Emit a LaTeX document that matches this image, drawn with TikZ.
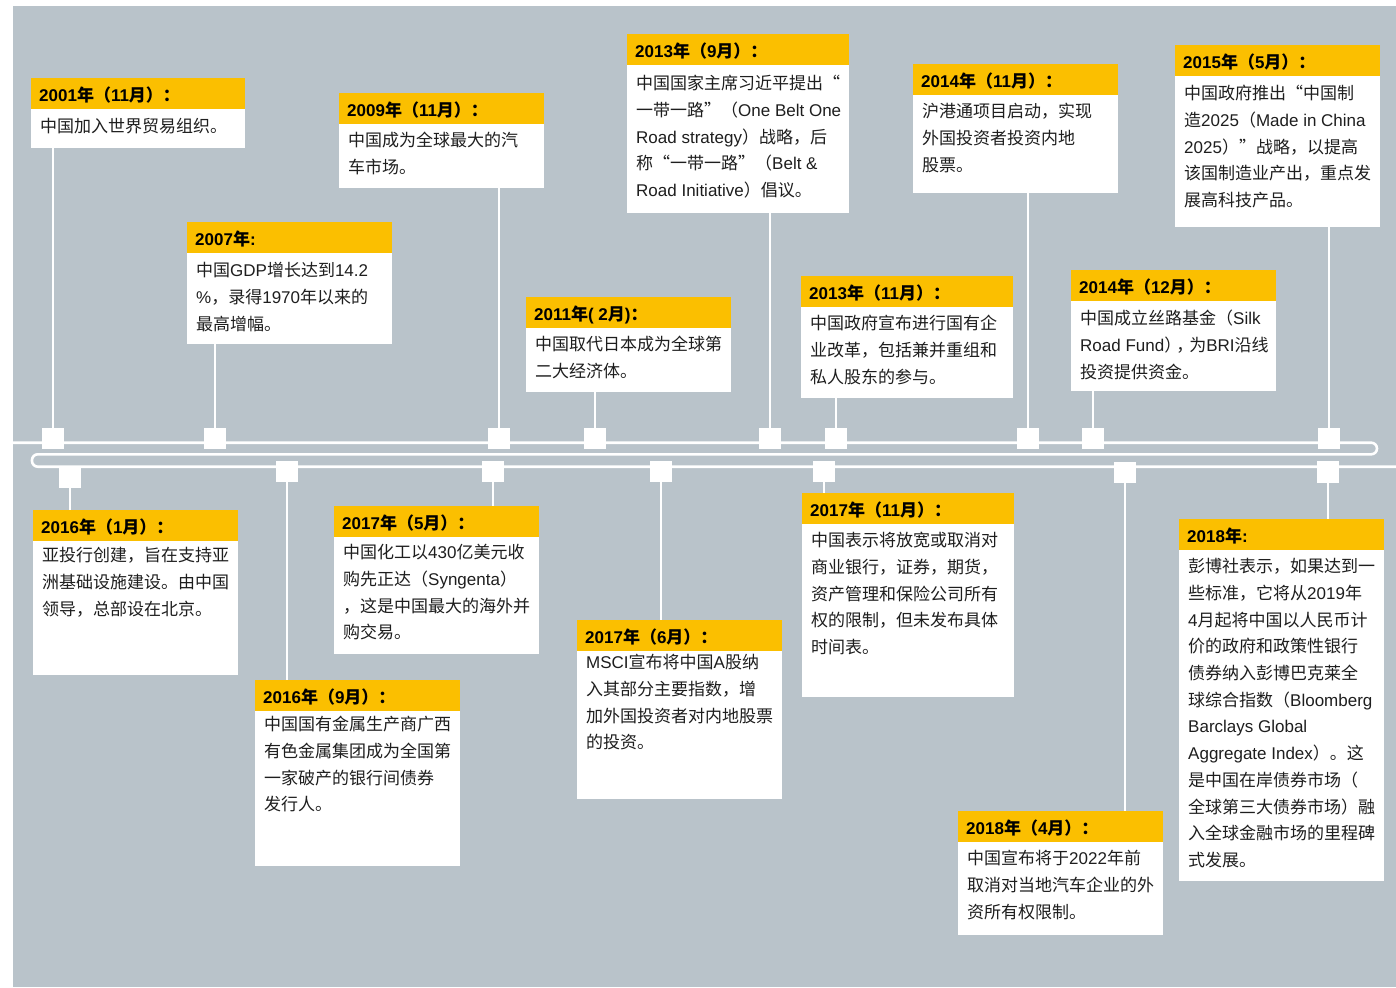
\documentclass[tikz,border=0pt]{standalone}
\usepackage{fontspec}
\setmainfont{Liberation Sans}
\newfontfamily\latf{Liberation Sans}
\newfontfamily\cjkf{Noto Sans CJK SC}
\newXeTeXintercharclass\CJKcls
\newcount\tlc
\tlc="4E00
\loop\XeTeXcharclass\tlc=\CJKcls\relax\ifnum\tlc<"9FFF \advance\tlc by 1 \repeat
\tlc="3000
\loop\XeTeXcharclass\tlc=\CJKcls\relax\ifnum\tlc<"303F \advance\tlc by 1 \repeat
\tlc="FF00
\loop\XeTeXcharclass\tlc=\CJKcls\relax\ifnum\tlc<"FFEF \advance\tlc by 1 \repeat
\XeTeXcharclass"2018=\CJKcls
\XeTeXcharclass"2019=\CJKcls
\XeTeXcharclass"201C=\CJKcls
\XeTeXcharclass"201D=\CJKcls
\XeTeXinterchartoks 0 \CJKcls = {\cjkf}
\XeTeXinterchartoks 4095 \CJKcls = {\cjkf}
\XeTeXinterchartoks \CJKcls 0 = {\latf}
\XeTeXinterchartoks 4095 0 = {\latf}
\def\mixon{\XeTeXinterchartokenstate=1\relax}
\definecolor{tlbg}{RGB}{185,195,202}
\definecolor{tlyellow}{RGB}{251,191,0}
\definecolor{tltext}{RGB}{30,30,30}
\pgfdeclarelayer{back}
\pgfdeclarelayer{conn}
\pgfsetlayers{back,conn,main}
\tikzset{
  whitebox/.style={fill=white, draw=none, inner sep=0pt, anchor=north west},
  headbar/.style={fill=tlyellow, draw=none, inner sep=0pt, minimum height=31, anchor=north west},
  headtext/.style={anchor=base west, inner sep=0pt, font=\mixon\fontsize{17}{20}\selectfont\bfseries, text=black},
  bodytext/.style={anchor=north west, inner sep=0pt, align=left, font=\mixon\fontsize{17}{26.7}\selectfont, text=tltext},
  sq/.style={fill=white, draw=none, minimum size=21.5, inner sep=0pt},
  conn/.style={draw=white, line width=2pt},
  track/.style={draw=white, line width=2.6pt, rounded corners=5.8pt}
}
\newcommand\tlbox[8]{%
  \node[whitebox, minimum width=#4, minimum height=#5] (#1) at (#2,#3) {};
  \node[headbar, minimum width=#4] (#1h) at (#2,#3) {};
  \node[headtext] (#1l) at (#2+8,#3+23.5) {#6};
  \node[bodytext] (#1t) at (#2+9,#3+22+#7) {\rule{0pt}{15.5pt}#8};
}
\begin{document}
\begin{tikzpicture}[x=1pt,y=-1pt]
\useasboundingbox (0,0) rectangle (1396,987);
\begin{pgfonlayer}{back}
\fill[tlbg] (13,6) rectangle (1396,987);
\end{pgfonlayer}
\begin{pgfonlayer}{conn}
\draw[track] (13,442.7) -- (1377,442.7) -- (1377,454.3) -- (32,454.3) -- (32,466.7) -- (1396,466.7);
\end{pgfonlayer}

% upper squares
\node[sq] (sa) at (53,438.5) {};
\node[sq] (sb) at (215,438.5) {};
\node[sq] (sc) at (499,438.5) {};
\node[sq] (sd) at (595,438.5) {};
\node[sq] (se) at (770,438.5) {};
\node[sq] (sf) at (836,438.5) {};
\node[sq] (sg) at (1028,438.5) {};
\node[sq] (sh) at (1093,438.5) {};
\node[sq] (si) at (1329,438.5) {};
% lower squares
\node[sq] (sj) at (70,477.5) {};
\node[sq] (sk) at (493,471.5) {};
\node[sq] (sl) at (287,471.5) {};
\node[sq] (sm) at (661,471.5) {};
\node[sq] (sn) at (824,471.5) {};
\node[sq] (so) at (1125,472.5) {};
\node[sq] (sp) at (1328,472) {};

% upper boxes
\tlbox{a}{31}{78}{214}{70}{2001年（11月）：}{17}{中国加入世界贸易组织。}
\tlbox{b}{187}{222}{205}{122}{2007年:}{17}{中国GDP增长达到14.2\\\%，录得1970年以来的\\最高增幅。}
\tlbox{c}{339}{93}{205}{95}{2009年（11月）：}{16}{中国成为全球最大的汽\\车市场。}
\tlbox{d}{526}{297}{205}{95}{2011年( 2月)：}{16}{中国取代日本成为全球第\\二大经济体。}
\tlbox{e}{627}{34}{222}{179}{2013年（9月）：}{18}{中国国家主席习近平提出“\\一带一路”（One Belt One\\Road strategy）战略，后\\称“一带一路”（Belt \&\\Road Initiative）倡议。}
\tlbox{f}{801}{276}{212}{122}{2013年（11月）：}{16}{中国政府宣布进行国有企\\业改革，包括兼并重组和\\私人股东的参与。}
\tlbox{g}{913}{64}{205}{129}{2014年（11月）：}{16}{沪港通项目启动，实现\\外国投资者投资内地\\股票。}
\tlbox{h}{1071}{270}{205}{121}{2014年（12月）：}{17}{中国成立丝路基金（Silk\\Road Fund）\kern-5pt，\kern-4pt为BRI沿线\\投资提供资金。}
\tlbox{i}{1175}{45}{205}{182}{2015年（5月）：}{17}{中国政府推出“中国制\\造2025（Made in China\\2025）”战略，以提高\\该国制造业产出，重点发\\展高科技产品。}
% lower boxes
\tlbox{j}{33}{510}{205}{165}{2016年（1月）：}{14}{亚投行创建，旨在支持亚\\洲基础设施建设。由中国\\领导，总部设在北京。}
\tlbox{k}{334}{506}{205}{148}{2017年（5月）：}{15}{中国化工以430亿美元收\\购先正达（Syngenta）\\，这是中国最大的海外并\\购交易。}
\tlbox{l}{255}{680}{205}{186}{2016年（9月）：}{13}{中国国有金属生产商广西\\有色金属集团成为全国第\\一家破产的银行间债券\\发行人。}
\tlbox{m}{577}{620}{205}{179}{2017年（6月）：}{11}{MSCI宣布将中国A股纳\\入其部分主要指数，增\\加外国投资者对内地股票\\的投资。}
\tlbox{n}{802}{493}{212}{204}{2017年（11月）：}{16}{中国表示将放宽或取消对\\商业银行，证券，期货，\\资产管理和保险公司所有\\权的限制，但未发布具体\\时间表。}
\tlbox{o}{958}{811}{205}{124}{2018年（4月）：}{16}{中国宣布将于2022年前\\取消对当地汽车企业的外\\资所有权限制。}
\tlbox{p}{1179}{519}{205}{362}{2018年:}{16}{彭博社表示，如果达到一\\些标准，它将从2019年\\4月起将中国以人民币计\\价的政府和政策性银行\\债券纳入彭博巴克莱全\\球综合指数（Bloomberg\\Barclays Global\\Aggregate Index）。这\\是中国在岸债券市场（\\全球第三大债券市场）融\\入全球金融市场的里程碑\\式发展。}

\begin{pgfonlayer}{conn}
\draw[conn] (sa |- a.south) -- (sa);
\draw[conn] (sb |- b.south) -- (sb);
\draw[conn] (sc |- c.south) -- (sc);
\draw[conn] (sd |- d.south) -- (sd);
\draw[conn] (se |- e.south) -- (se);
\draw[conn] (sf |- f.south) -- (sf);
\draw[conn] (sg |- g.south) -- (sg);
\draw[conn] (sh |- h.south) -- (sh);
\draw[conn] (si |- i.south) -- (si);
\draw[conn] (sj) -- (sj |- j.north);
\draw[conn] (sk) -- (sk |- k.north);
\draw[conn] (sl) -- (sl |- l.north);
\draw[conn] (sm) -- (sm |- m.north);
\draw[conn] (sn) -- (sn |- n.north);
\draw[conn] (so) -- (so |- o.north);
\draw[conn] (sp) -- (sp |- p.north);
\end{pgfonlayer}
\end{tikzpicture}
\end{document}
